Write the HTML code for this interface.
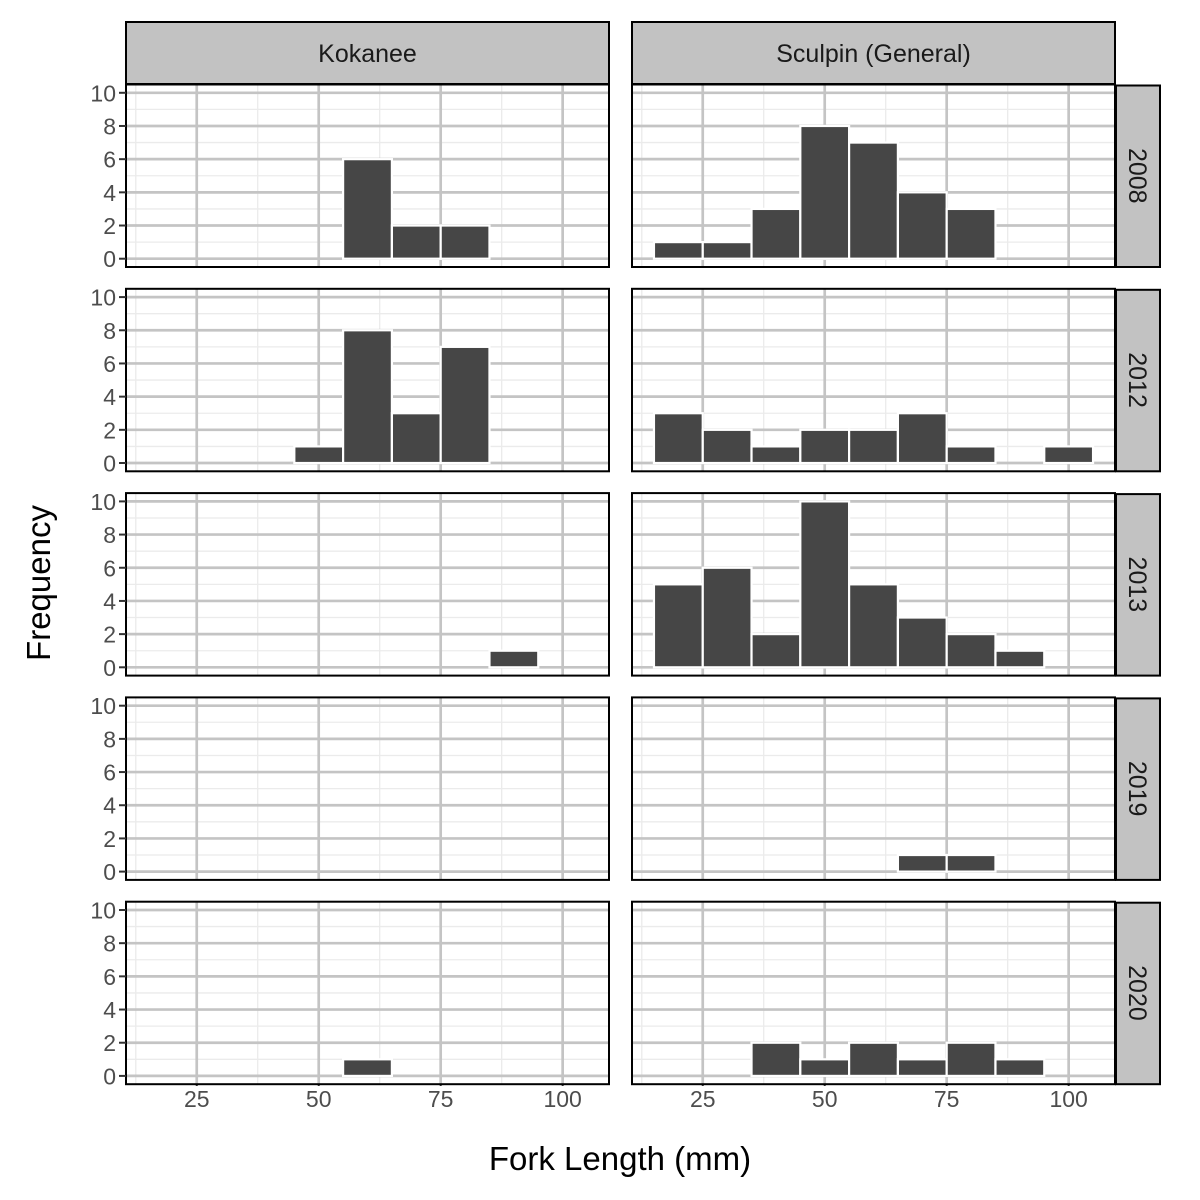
<!DOCTYPE html>
<html><head><meta charset="utf-8"><style>
html,body{margin:0;padding:0;background:#fff;}
svg{display:block;font-family:"Liberation Sans",sans-serif;}
</style></head><body>
<svg id="chart" width="1200" height="1200" viewBox="0 0 1200 1200"></svg>
<script>
const species = ["Kokanee", "Sculpin (General)"];
const years = ["2008", "2012", "2013", "2019", "2020"];
const binCenters = [20, 30, 40, 50, 60, 70, 80, 90, 100];
const kokanee2008 = [0,0,0,0,6,2,2,0,0];
const kokanee2012 = [0,0,0,1,8,3,7,0,0];
const kokanee2013 = [0,0,0,0,0,0,0,1,0];
const kokanee2019 = [0,0,0,0,0,0,0,0,0];
const kokanee2020 = [0,0,0,0,1,0,0,0,0];
const sculpin2008 = [1,1,3,8,7,4,3,0,0];
const sculpin2012 = [3,2,1,2,2,3,1,0,1];
const sculpin2013 = [5,6,2,10,5,3,2,1,0];
const sculpin2019 = [0,0,0,0,0,1,1,0,0];
const sculpin2020 = [0,0,2,1,2,1,2,1,0];
const xTicks = [25, 50, 75, 100];
const xMinor = [12.5, 37.5, 62.5, 87.5];
const yTicks = [0, 2, 4, 6, 8, 10];
const yMinor = [1, 3, 5, 7, 9];
const binWidth = 10;

const data = [[kokanee2008,kokanee2012,kokanee2013,kokanee2019,kokanee2020],
              [sculpin2008,sculpin2012,sculpin2013,sculpin2019,sculpin2020]];
const NS = "http://www.w3.org/2000/svg";
const svg = document.getElementById("chart");
function mk(tag, attrs, parent){ const e=document.createElementNS(NS,tag); for(const k in attrs) e.setAttribute(k,attrs[k]); (parent||svg).appendChild(e); return e; }

const colX = [126, 632], colW = 483;
const rowY0 = 84.5, rowStep = 204.3, rowH = 182.5;
const xMin = 10.5, xMax = 109.5, yMin = -0.5, yMax = 10.5;

for (let c = 0; c < 2; c++) {
  const px = colX[c];
  const sx = v => px + (v - xMin) / (xMax - xMin) * colW;
  // strip
  const sg = mk("g", {});
  
  
  mk("rect", {x:px, y:22, width:colW, height:62, fill:"#c2c2c2", stroke:"#000", "stroke-width":2}, sg);
  const st = mk("text", {x:px+colW/2, y:62, "text-anchor":"middle", "font-size":25, fill:"#1a1a1a"}, sg);
  st.textContent = species[c];
  // x tick labels
  xTicks.forEach(t => {
    mk("line", {x1:sx(t), x2:sx(t), y1:1079, y2:1086, stroke:"#333", "stroke-width":2});
    const tl = mk("text", {x:sx(t), y:1107, "text-anchor":"middle", "font-size":23, fill:"#4d4d4d"});
    
    
    tl.textContent = t;
  });
  for (let r = 0; r < 5; r++) {
    const py = rowY0 + r * rowStep;
    const sy = v => py + rowH - (v - yMin) / (yMax - yMin) * rowH;
    const g = mk("g", {});
    
    
    mk("rect", {x:px, y:py, width:colW, height:rowH, fill:"#fff"}, g);
    yMinor.forEach(t => mk("line", {x1:px, x2:px+colW, y1:sy(t), y2:sy(t), stroke:"#ebebeb", "stroke-width":1.3}, g));
    xMinor.forEach(t => mk("line", {x1:sx(t), x2:sx(t), y1:py, y2:py+rowH, stroke:"#ebebeb", "stroke-width":1.3}, g));
    yTicks.forEach(t => mk("line", {x1:px, x2:px+colW, y1:sy(t), y2:sy(t), stroke:"#c4c4c4", "stroke-width":2.7}, g));
    xTicks.forEach(t => mk("line", {x1:sx(t), x2:sx(t), y1:py, y2:py+rowH, stroke:"#c4c4c4", "stroke-width":2.7}, g));
    const vals = data[c][r];
    binCenters.forEach((b, i) => {
      const v = vals[i];
      const x0 = sx(b - binWidth/2), x1 = sx(b + binWidth/2);
      const bar = mk("rect", {x:x0, y:sy(v), width:x1-x0, height:Math.max(sy(0)-sy(v),0), fill:"#464646", stroke:"#fff", "stroke-width":2.2}, g);
      
      
    });
    mk("rect", {x:px, y:py, width:colW, height:rowH, fill:"none", stroke:"#000", "stroke-width":2}, g);
    if (c === 0) {
      yTicks.forEach(t => {
        mk("line", {x1:px-7, x2:px, y1:sy(t), y2:sy(t), stroke:"#333", "stroke-width":2});
        const yl = mk("text", {x:px-10, y:sy(t)+8.5, "text-anchor":"end", "font-size":23, fill:"#4d4d4d"});
        
        
        yl.textContent = t;
      });
    }
    if (c === 1) {
      const rs = mk("g", {});
      
      
      mk("rect", {x:1116, y:py+1, width:44, height:rowH-1, fill:"#c2c2c2", stroke:"#000", "stroke-width":2}, rs);
      const cy = py + rowH/2;
      const tt = mk("text", {x:1138, y:cy, "text-anchor":"middle", "font-size":25, fill:"#1a1a1a", transform:"rotate(90 1138 "+cy+")", dy:9}, rs);
      tt.textContent = years[r];
    }
  }
}
const xt = mk("text", {x:620, y:1170, "text-anchor":"middle", "font-size":33, fill:"#000"});


xt.textContent = "Fork Length (mm)";
const yt = mk("text", {x:0, y:0, "text-anchor":"middle", "font-size":33, fill:"#000", transform:"translate(50 583) rotate(-90)"});


yt.textContent = "Frequency";
</script>
</body></html>
